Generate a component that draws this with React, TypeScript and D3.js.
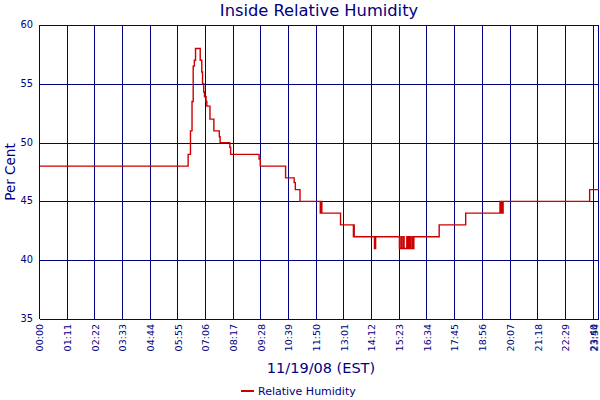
import type { FC } from "react";
import { useEffect, useRef } from "react";
import * as d3 from "d3";

// Minutes after midnight where the reading changes, and the new reading
const times = [
  0, 380, 386, 390, 393, 396, 399, 411, 415, 417, 420, 422, 426, 428, 436, 446,
  460, 462, 487, 489, 562, 565, 630, 652, 655, 667, 719, 721, 723, 771, 804, 805,
  806, 858, 861, 922, 926, 928, 932, 934, 938, 941, 944, 947, 950, 954, 956,
  959, 1024, 1092, 1180, 1183, 1185, 1186, 1188, 1410, 1434,
];
const humidity = [
  48, 49, 51, 53.5, 56.5, 57, 58, 57, 56, 55, 54.3, 53.9, 53.5, 53.1, 52, 51,
  50.5, 50, 49.6, 49, 48.6, 48, 47, 46.6, 46, 45, 44, 45, 44, 43, 42, 43,
  42, 41, 42, 41, 42, 41, 42, 41, 41, 42, 41, 42, 41, 42, 41,
  42, 43, 44, 45, 44, 45, 44, 45, 46, 46,
];

const tickMinutes = [
  0, 71, 142, 213, 284, 355, 426, 497, 568, 639, 710, 781, 852, 923, 994, 1065,
  1136, 1207, 1278, 1349, 1420, 1434,
];
const tickLabels = [
  "00:00", "01:11", "02:22", "03:33", "04:44", "05:55", "07:06", "08:17", "09:28",
  "10:39", "11:50", "13:01", "14:12", "15:23", "16:34", "17:45", "18:56", "20:07",
  "21:18", "22:29", "23:40", "23:54",
];
const yTicks = [35, 40, 45, 50, 55, 60];

const navy = "#000080";
const red = "#cc0000";
const font = "'DejaVu Sans', Verdana, sans-serif";

const HumidityChart: FC = () => {
  const ref = useRef<SVGSVGElement | null>(null);

  useEffect(() => {
    if (!ref.current) return;
    const svg = d3.select(ref.current);
    svg.selectAll("*").remove();

    const width = 600;
    const height = 400;
    const m = { top: 25, right: 1, bottom: 81, left: 40 };

    const x = d3
      .scaleLinear()
      .domain([0, 1434])
      .range([m.left, width - m.right]);
    const y = d3
      .scaleLinear()
      .domain([35, 60])
      .range([height - m.bottom, m.top]);

    // Background
    svg
      .append("rect")
      .attr("width", width)
      .attr("height", height)
      .attr("fill", "#fff");

    // Grid
    const grid = svg
      .append("g")
      .attr("stroke", navy)
      .attr("stroke-width", 1)
      .attr("shape-rendering", "crispEdges");
    grid
      .selectAll("line.v")
      .data(tickMinutes)
      .join("line")
      .attr("class", "v")
      .attr("x1", (d) => Math.round(x(d)) - 0.5)
      .attr("x2", (d) => Math.round(x(d)) - 0.5)
      .attr("y1", y(60))
      .attr("y2", y(35));
    grid
      .selectAll("line.h")
      .data(yTicks)
      .join("line")
      .attr("class", "h")
      .attr("x1", x(0))
      .attr("x2", x(1434))
      .attr("y1", (d) => Math.round(y(d)) + 0.5)
      .attr("y2", (d) => Math.round(y(d)) + 0.5);

    // Data line
    const pts = times.map((t, i) => [t, humidity[i]] as [number, number]);
    const line = d3
      .line<[number, number]>()
      .x((d) => x(d[0]))
      .y((d) => y(d[1]))
      .curve(d3.curveStepAfter);
    svg
      .append("path")
      .datum(pts)
      .attr("d", line)
      .attr("fill", "none")
      .attr("stroke", red)
      .attr("stroke-width", 1.4);

    // Y tick labels
    svg
      .append("g")
      .selectAll("text")
      .data(yTicks)
      .join("text")
      .attr("x", 33)
      .attr("y", (d) => y(d))
      .attr("dy", "0.3em")
      .attr("text-anchor", "end")
      .attr("fill", navy)
      .style("font-family", font)
      .style("font-size", "9.8px")
      .text((d) => d);

    // X tick labels (last one kept inside the picture)
    svg
      .append("g")
      .selectAll("text")
      .data(tickMinutes)
      .join("text")
      .attr(
        "transform",
        (d) =>
          `translate(${Math.min(x(d), 595)},${height - m.bottom + 5}) rotate(-90)`
      )
      .attr("dy", "0.35em")
      .attr("text-anchor", "end")
      .attr("fill", navy)
      .style("font-family", font)
      .style("font-size", "9.5px")
      .text((_, i) => tickLabels[i]);

    // Title
    svg
      .append("text")
      .attr("x", 319)
      .attr("y", 16)
      .attr("text-anchor", "middle")
      .attr("fill", navy)
      .style("font-family", font)
      .style("font-size", "16.3px")
      .text("Inside Relative Humidity");

    // Axis titles
    svg
      .append("text")
      .attr("transform", "translate(15,172) rotate(-90)")
      .attr("text-anchor", "middle")
      .attr("fill", navy)
      .style("font-family", font)
      .style("font-size", "13.5px")
      .text("Per Cent");
    svg
      .append("text")
      .attr("x", 321)
      .attr("y", 373)
      .attr("text-anchor", "middle")
      .attr("fill", navy)
      .style("font-family", font)
      .style("font-size", "14.5px")
      .text("11/19/08 (EST)");

    // Legend
    svg
      .append("line")
      .attr("x1", 241)
      .attr("x2", 254)
      .attr("y1", 391)
      .attr("y2", 391)
      .attr("stroke", red)
      .attr("stroke-width", 2);
    svg
      .append("text")
      .attr("x", 258)
      .attr("y", 395)
      .attr("fill", navy)
      .style("font-family", font)
      .style("font-size", "11px")
      .text("Relative Humidity");
  }, []);

  return (
    <svg
      ref={ref}
      width={600}
      height={400}
      style={{ position: "absolute", left: 0, top: 0 }}
    />
  );
};

export default function App() {
  return <HumidityChart />;
}
